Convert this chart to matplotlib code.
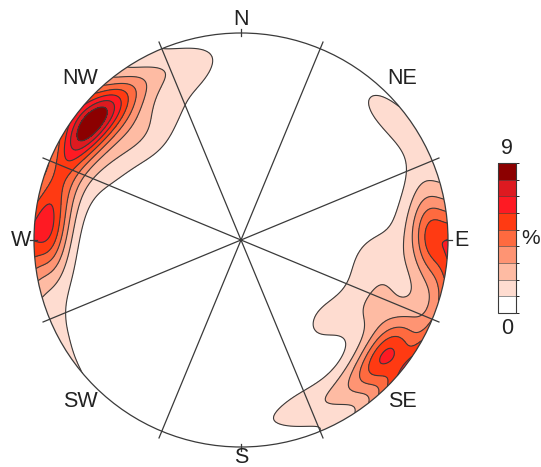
import numpy as np
import matplotlib.pyplot as plt
from matplotlib.colors import ListedColormap, BoundaryNorm
from matplotlib.patches import Circle

plt.rcParams['font.family'] = ['Liberation Sans', 'DejaVu Sans']

# pole orientations: trend, plunge (degrees) and number of measurements
trend = [355, 345, 335, 325, 316, 308, 300, 290, 280, 272, 262, 250, 238,
         318, 310, 318, 325, 338, 346, 300, 295, 288, 278, 262,
         46, 58, 72, 82, 90, 100, 110,
         120, 128, 137, 146, 155, 165, 178,
         80, 92, 95, 100, 105, 110, 118, 124, 132, 142, 160]
plunge = [8, 10, 11, 11, 10, 9, 9, 8, 7, 7, 7, 6, 6,
          22, 30, 38, 32, 30, 20, 24, 32, 20, 16, 14,
          8, 8, 8, 9, 9, 8, 7,
          10, 12, 12, 13, 13, 13, 12,
          22, 26, 38, 30, 40, 24, 28, 38, 46, 42, 18]
count = [2, 3, 5, 8, 16, 32, 15, 13, 12, 22, 5, 3, 3,
         6, 5, 3, 3, 3, 3, 4, 2, 3, 3, 2,
         6, 4, 4, 8, 22, 5, 4,
         6, 26, 9, 6, 4, 3, 3,
         2, 3, 3, 3, 3, 4, 7, 4, 3, 3, 2]

levels = np.arange(0, 10)
colors = ['#ffffff', '#fedcd0', '#febba3', '#fe9473', '#fe6a3f',
          '#ff3a12', '#fe1a23', '#dd1a20', '#8c0000']
directions = ['N', 'NE', 'E', 'SE', 'S', 'SW', 'W', 'NW']
line_azimuths = [22.5, 67.5, 112.5, 157.5]

kappa = 54.0


def to_vec(t, p):
    t = np.radians(t)
    p = np.radians(p)
    return np.stack([np.cos(p) * np.sin(t), np.cos(p) * np.cos(t), -np.sin(p)], axis=-1)


# lower hemisphere equal-area grid
n = 260
xs = np.linspace(-1.02, 1.02, n)
X, Y = np.meshgrid(xs, xs)
R = np.clip(np.hypot(X, Y), 0, 1)
grid_t = np.degrees(np.arctan2(X, Y))
grid_p = 90 - 2 * np.degrees(np.arcsin(R / np.sqrt(2)))
G = to_vec(grid_t, grid_p)

P = to_vec(np.array(trend, float), np.array(plunge, float))
w = np.array(count, float)
cosd = np.abs(G @ P.T)
dens = kappa * (np.exp(kappa * (cosd - 1)) * w).sum(axis=-1) / w.sum()
dens = np.clip(dens, 0, 8.999)

fig = plt.figure(figsize=(5.41, 4.67), dpi=100)
ax = fig.add_axes([0, 0, 1, 1])
ax.set_xlim(-241 / 207, 300 / 207)
ax.set_ylim(-227 / 207, 240 / 207)
ax.set_aspect('equal')
ax.axis('off')

cmap = ListedColormap(colors)
norm = BoundaryNorm(levels, cmap.N)
clip = Circle((0, 0), 1, transform=ax.transData)
cf = ax.contourf(X, Y, dens, levels=levels, cmap=cmap, norm=norm)
cf.set_clip_path(clip)
cl = ax.contour(X, Y, dens, levels=levels[1:], colors='#3a3a3a', linewidths=0.8)
cl.set_clip_path(clip)

ax.add_patch(Circle((0, 0), 1, fill=False, ec='#3a3a3a', lw=0.9))

for az in line_azimuths:
    a = np.radians(az)
    ax.plot([-1.035 * np.sin(a), 1.035 * np.sin(a)],
            [-1.035 * np.cos(a), 1.035 * np.cos(a)], color='#3a3a3a', lw=0.9)

for i, lab in enumerate(directions):
    a = np.radians(45 * i)
    rr = 1.065 if i % 2 == 0 else 1.1
    if lab == 'S':
        rr = 1.05
    ax.text(rr * np.sin(a), rr * np.cos(a), lab, ha='center', va='center',
            fontsize=15.5, color='#222222')
    if i % 2 == 0:
        ax.plot([0.985 * np.sin(a), 1.02 * np.sin(a)],
                [0.985 * np.cos(a), 1.02 * np.cos(a)], color='#3a3a3a', lw=0.9)

cax = fig.add_axes([498 / 541, 1 - 313 / 467, 18 / 541, 150 / 467])
cb = fig.colorbar(cf, cax=cax, drawedges=True)
cb.set_ticks([])
cb.outline.set_edgecolor('#3a3a3a')
cb.dividers.set_color('#3a3a3a')
cax.text(0.5, 1.03, '9', transform=cax.transAxes, ha='center', va='bottom',
         fontsize=15.5, color='#222222')
cax.text(0.5, -0.03, '0', transform=cax.transAxes, ha='center', va='top',
         fontsize=15.5, color='#222222')
cax.text(1.3, 0.5, '%', transform=cax.transAxes, ha='left', va='center',
         fontsize=15, color='#222222')

fig.savefig('out.png', dpi=100)
